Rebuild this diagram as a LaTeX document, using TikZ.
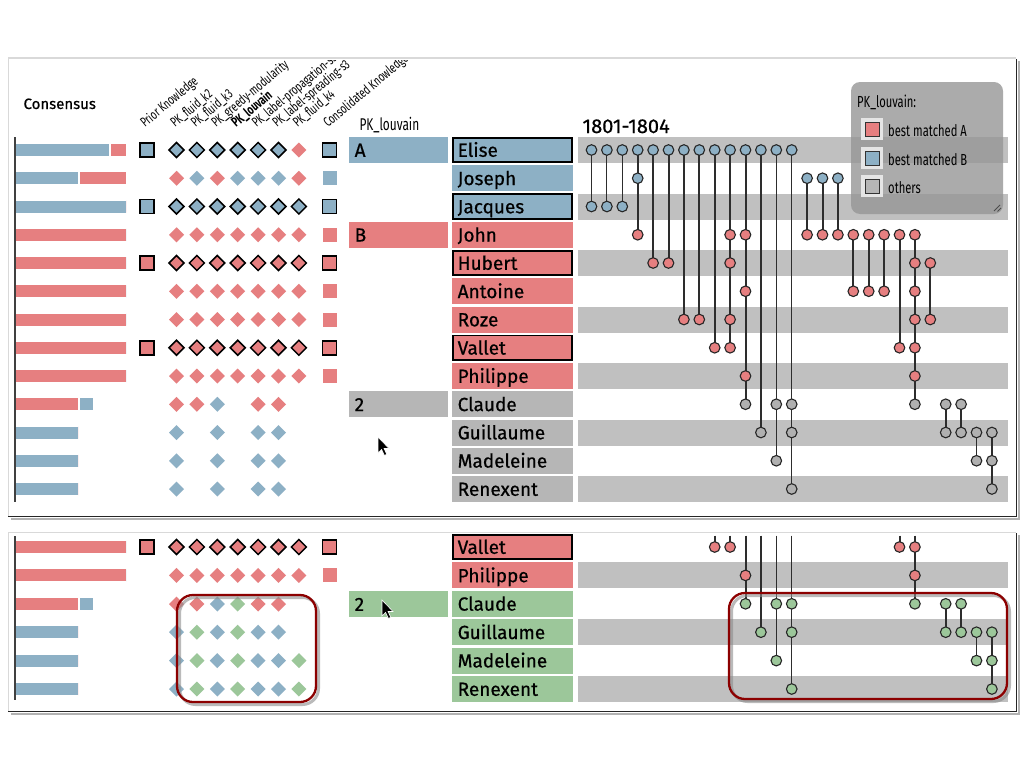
\documentclass[tikz,border=0pt]{standalone}
\usepackage{fontspec}
\setmainfont{Fira Sans}
\newfontfamily\cond[FakeStretch=0.7]{Fira Sans}
\newfontfamily\namef[FakeBold=0.6]{Fira Sans}
\definecolor{cblue}{RGB}{141,176,197}
\definecolor{cred}{RGB}{230,127,128}
\definecolor{cgreen}{RGB}{156,199,154}
\definecolor{cgray}{RGB}{182,182,182}
\definecolor{cstripe}{RGB}{192,192,192}
\definecolor{cdot}{RGB}{176,176,176}
\definecolor{clink}{RGB}{45,45,45}
\definecolor{chl}{RGB}{140,0,0}
\definecolor{clegend}{RGB}{150,150,150}
\tikzset{
  kB/.style={fill=cblue,draw=black,line width=1.5},
  kb/.style={fill=cblue,draw=none},
  kR/.style={fill=cred,draw=black,line width=1.5},
  kr/.style={fill=cred,draw=none},
  kg/.style={fill=cgreen,draw=none},
  kn/.style={fill=none,draw=none},
  namefont/.style={font=\namef\fontsize{19}{22}\selectfont},
  legfont/.style={font=\cond\fontsize{16}{18}\selectfont},
  hdrfont/.style={font=\cond\fontsize{13.5}{15}\selectfont},
  dotstyle/.style={draw=black!85,line width=1.1},
  hl/.style={draw=chl,line width=2.3,rounded corners=16},
  hlshadow/.style={draw=black!45,line width=3,rounded corners=16,opacity=0.6},
  panelshadow/.style={draw=black!30,line width=2.5},
  paneldark/.style={draw=black!85,line width=1.6},
  panellight/.style={draw=black!15,line width=1},
}
\begin{document}
\begin{tikzpicture}[x=1pt,y=-1pt]
\useasboundingbox (0,0) rectangle (1024,768);
\fill[white] (0,0) rectangle (1024,768);

% ---------- panels ----------
\fill[white] (8,58) rectangle (1016,516);
\draw[panelshadow] (11,519) -- (1019,519) -- (1019,61);
\draw[panellight] (8,516) -- (8,58) -- (1016,58);
\draw[paneldark] (1016.5,59) -- (1016.5,516.5) -- (8,516.5);

\fill[white] (8,532) rectangle (1016,711);
\draw[panelshadow] (11,714) -- (1019,714) -- (1019,535);
\draw[panellight] (8,711) -- (8,532) -- (1016,532);
\draw[paneldark] (1016.5,533) -- (1016.5,711.5) -- (8,711.5);

% ---------- titles ----------
\node[anchor=base west,font=\namef\fontsize{15}{18}\selectfont] (consensus) at (20,109) {Consensus};
\node[anchor=base west,font=\cond\fontsize{17}{20}\selectfont] (pkhead) at (356,130) {PK\_louvain};
\node[anchor=base west,font=\namef\fontsize{20}{24}\selectfont] (period) at (579,133) {1801-1804};

\begin{scope}
\clip (0,60) rectangle (1024,140);
\foreach \lx/\lt [count=\li] in {145/{Prior Knowledge},175/{PK\_fluid\_k2},195.5/{PK\_fluid\_k3},216/{PK\_greedy-modularity},236/{\bfseries PK\_louvain},256.5/{PK\_label-propagation-s3},277/{PK\_label-spreading-s3},297.5/{PK\_fluid\_k4},328/{Consolidated Knowledge}}
  \node[hdrfont,anchor=base west,rotate=40,inner sep=0] (hdr\li) at (\lx,128) {\lt};
\end{scope}

% ---------- stripes ----------
\foreach \r in {0,2,...,12}{
  \pgfmathsetmacro\y{150+28.25*\r}
  \fill[cstripe] (578,\y-13) rectangle (1008,\y+13);
}
\foreach \r in {8,10,12}{
  \pgfmathsetmacro\y{547+28.4*(\r-7)}
  \fill[cstripe] (578,\y-13) rectangle (1008,\y+13);
}

% ---------- links and dots, top ----------
\foreach \c/\a/\b/\rows/\w in {
0/0/2/{0,2}/0.9, 1/0/2/{0,2}/0.9, 2/0/2/{0,2}/0.9, 3/0/3/{0,1,3}/1.6,
4/0/4/{0,4}/2, 5/0/4/{0,4}/2, 6/0/6/{0,6}/2, 7/0/6/{0,6}/2,
8/0/7/{0,7}/1.6, 9/0/7/{0,3,4,6,7}/2.2, 10/0/9/{0,3,5,8,9}/2,
11/0/10/{0,10}/1.8, 12/0/11/{0,9,11}/1.5, 13/0/12/{0,9,10,12}/0.9,
14/1/3/{1,3}/2, 15/1/3/{1,3}/2, 16/1/3/{1,3}/2,
17/3/5/{3,5}/2, 18/3/5/{3,5}/2, 19/3/5/{3,5}/2, 20/3/7/{3,7}/2,
21/3/9/{3,4,5,6,7,8,9}/2.2, 22/4/6/{4,6}/1.8,
23/9/10/{9,10}/2, 24/9/10/{9,10}/2, 25/10/11/{10,11}/1, 26/10/12/{10,11,12}/1.8}{
  \pgfmathsetmacro\x{591.5+15.4*\c}
  \pgfmathsetmacro\ya{150+28.25*\a}
  \pgfmathsetmacro\yb{150+28.25*\b}
  \draw[clink,line width=\w] (\x,\ya) -- (\x,\yb);
  \foreach \r in \rows{
    \pgfmathsetmacro\yy{150+28.25*\r}
    \ifnum\r<3 \def\fc{cblue}\else\ifnum\r<9 \def\fc{cred}\else\def\fc{cdot}\fi\fi
    \filldraw[dotstyle,fill=\fc] (\x,\yy) circle[radius=5.3pt];
  }
}

% ---------- links and dots, bottom ----------
\foreach \c/\a/\b/\rows/\w in {
8/6.6/7/{7}/1.6, 9/6.6/7/{7}/2.2, 10/6.6/9/{8,9}/2, 11/6.6/10/{10}/1.8,
12/6.6/11/{9,11}/1.5, 13/6.6/12/{9,10,12}/0.9, 20/6.6/7/{7}/2, 21/6.6/9/{7,8,9}/2.2,
23/9/10/{9,10}/2, 24/9/10/{9,10}/2, 25/10/11/{10,11}/1, 26/10/12/{10,11,12}/1.8}{
  \pgfmathsetmacro\x{591.5+15.4*\c}
  \pgfmathsetmacro\ya{547+28.4*(\a-7)}
  \pgfmathsetmacro\yb{547+28.4*(\b-7)}
  \draw[clink,line width=\w] (\x,\ya) -- (\x,\yb);
  \foreach \r in \rows{
    \pgfmathsetmacro\yy{547+28.4*(\r-7)}
    \ifnum\r<9 \def\fc{cred}\else\def\fc{cgreen}\fi
    \filldraw[dotstyle,fill=\fc] (\x,\yy) circle[radius=5.3pt];
  }
}

% ---------- name boxes ----------
\foreach \r/\nm/\col/\bd in {0/Elise/cblue/1,1/Joseph/cblue/0,2/Jacques/cblue/1,3/John/cred/0,4/Hubert/cred/1,5/Antoine/cred/0,6/Roze/cred/0,7/Vallet/cred/1,8/Philippe/cred/0,9/Claude/cgray/0,10/Guillaume/cgray/0,11/Madeleine/cgray/0,12/Renexent/cgray/0}{
  \pgfmathsetmacro\y{150+28.25*\r}
  \fill[\col] (452,\y-13) rectangle (573,\y+13);
  \ifnum\bd=1 \draw[black,line width=1.8] (453,\y-12.2) rectangle (572,\y+12.2); \fi
  \node[namefont,anchor=base west,inner sep=0] (nt\r) at (457.5,\y+6.8) {\nm};
}
\foreach \r/\nm/\col/\bd in {7/Vallet/cred/1,8/Philippe/cred/0,9/Claude/cgreen/0,10/Guillaume/cgreen/0,11/Madeleine/cgreen/0,12/Renexent/cgreen/0}{
  \pgfmathsetmacro\y{547+28.4*(\r-7)}
  \fill[\col] (452,\y-13) rectangle (573,\y+13);
  \ifnum\bd=1 \draw[black,line width=1.8] (453,\y-12.2) rectangle (572,\y+12.2); \fi
  \node[namefont,anchor=base west,inner sep=0] (nb\r) at (457.5,\y+6.8) {\nm};
}

% ---------- group boxes ----------
\foreach \y/\g/\col [count=\gi] in {150/A/cblue,234.75/B/cred,404.25/2/cgray,604/2/cgreen}{
  \fill[\col] (349,\y-13) rectangle (448,\y+13);
  \node[namefont,anchor=base west,inner sep=0] (grp\gi) at (354.5,\y+6.8) {\g};
}

% ---------- consensus bars ----------
\draw[black!75,line width=1.5] (15,137) -- (15,502);
\draw[black!75,line width=1.5] (15,536) -- (15,700);
\foreach \y/\bs/\be/\rs/\re in {
150/16/109/111/126, 178.25/16/78/80/126, 206.5/16/126/126/126,
234.75/126/126/16/126, 263/126/126/16/126, 291.25/126/126/16/126, 319.5/126/126/16/126, 347.75/126/126/16/126, 376/126/126/16/126,
432.5/16/78/78/78, 460.75/16/78/78/78, 489/16/78/78/78,
547/126/126/16/126, 575.4/126/126/16/126,
632.2/16/78/78/78, 660.6/16/78/78/78, 689/16/78/78/78}{
  \fill[cblue] (\bs,\y-6) rectangle (\be,\y+6);
  \fill[cred] (\rs,\y-6) rectangle (\re,\y+6);
}
\foreach \y in {404.25,604}{
  \fill[cred] (16,\y-6) rectangle (78,\y+6);
  \fill[cblue] (80,\y-6) rectangle (93,\y+6);
}

% ---------- prior / consolidated squares ----------
\foreach \x/\y/\s in {147/150/kB,147/206.5/kB,147/263/kR,147/347.75/kR,147/547/kR,
  329.5/150/kB,329.5/178.25/kb,329.5/206.5/kB,329.5/234.75/kr,329.5/263/kR,329.5/291.25/kr,329.5/319.5/kr,329.5/347.75/kR,329.5/376/kr,
  329.5/547/kR,329.5/575.4/kr}{
  \path[\s] (\x-7,\y-7) rectangle (\x+7,\y+7);
}

% ---------- diamonds ----------
\foreach \y/\codes in {
150/{kB,kB,kB,kB,kB,kB,kr},
178.25/{kr,kb,kr,kb,kb,kb,kr},
206.5/{kB,kB,kB,kB,kB,kB,kB},
234.75/{kr,kr,kr,kr,kr,kr,kr},
263/{kR,kR,kR,kR,kR,kR,kR},
291.25/{kr,kr,kr,kr,kr,kr,kr},
319.5/{kr,kr,kr,kr,kr,kr,kr},
347.75/{kR,kR,kR,kR,kR,kR,kR},
376/{kr,kr,kr,kr,kr,kr,kr},
404.25/{kr,kr,kb,kn,kr,kr,kn},
432.5/{kb,kn,kb,kn,kb,kb,kn},
460.75/{kb,kn,kb,kn,kb,kb,kn},
489/{kb,kn,kb,kn,kb,kb,kn},
547/{kR,kR,kR,kR,kR,kR,kR},
575.4/{kr,kr,kr,kr,kr,kr,kr},
604/{kr,kr,kb,kg,kr,kr,kn},
632.2/{kb,kg,kb,kg,kb,kb,kn},
660.6/{kb,kg,kb,kg,kb,kb,kg},
689/{kb,kg,kb,kg,kb,kb,kg}}{
  \foreach \cd [count=\k from 0] in \codes{
    \pgfmathsetmacro\x{176.5+20.4*\k}
    \path[\cd] (\x,\y-7.5) -- (\x+7.5,\y) -- (\x,\y+7.5) -- (\x-7.5,\y) -- cycle;
  }
}

% ---------- legend ----------
\fill[clegend,opacity=0.8,rounded corners=9] (851,82) rectangle (1003,214);
\node[legfont,anchor=base west,inner sep=0] (legtitle) at (857,107) {PK\_louvain:};
\foreach \y/\col/\lt [count=\li] in {129/cred/{best matched A},158/cblue/{best matched B},186/cgray/{others}}{
  \fill[black!10] (861,\y-11) rectangle (883,\y+11);
  \filldraw[fill=\col,draw=black!80,line width=0.9] (865,\y-7) rectangle (879,\y+7);
  \node[legfont,anchor=base west,inner sep=0] (leg\li) at (888,\y+7) {\lt};
}
\draw[black!70,line width=0.8] (994,211) -- (1000,205) (997.5,211.5) -- (1001,208);

% ---------- highlights ----------
\draw[hlshadow] (179.5,597.5) rectangle (318.5,704.5);
\draw[hl] (177,595) rectangle (316,702);
\draw[hlshadow] (731.5,595.5) rectangle (1009.5,701.5);
\draw[hl] (729,593) rectangle (1007,699);

% ---------- cursors ----------
\foreach \cx/\cy in {378/437,382/600}{
  \filldraw[fill=black,draw=white,line width=0.6] (\cx,\cy) -- ++(0,16) -- ++(3.6,-3.6) -- ++(2.8,6) -- ++(2.4,-1.1) -- ++(-2.8,-5.8) -- ++(5,0) -- cycle;
}
\end{tikzpicture}
\end{document}
